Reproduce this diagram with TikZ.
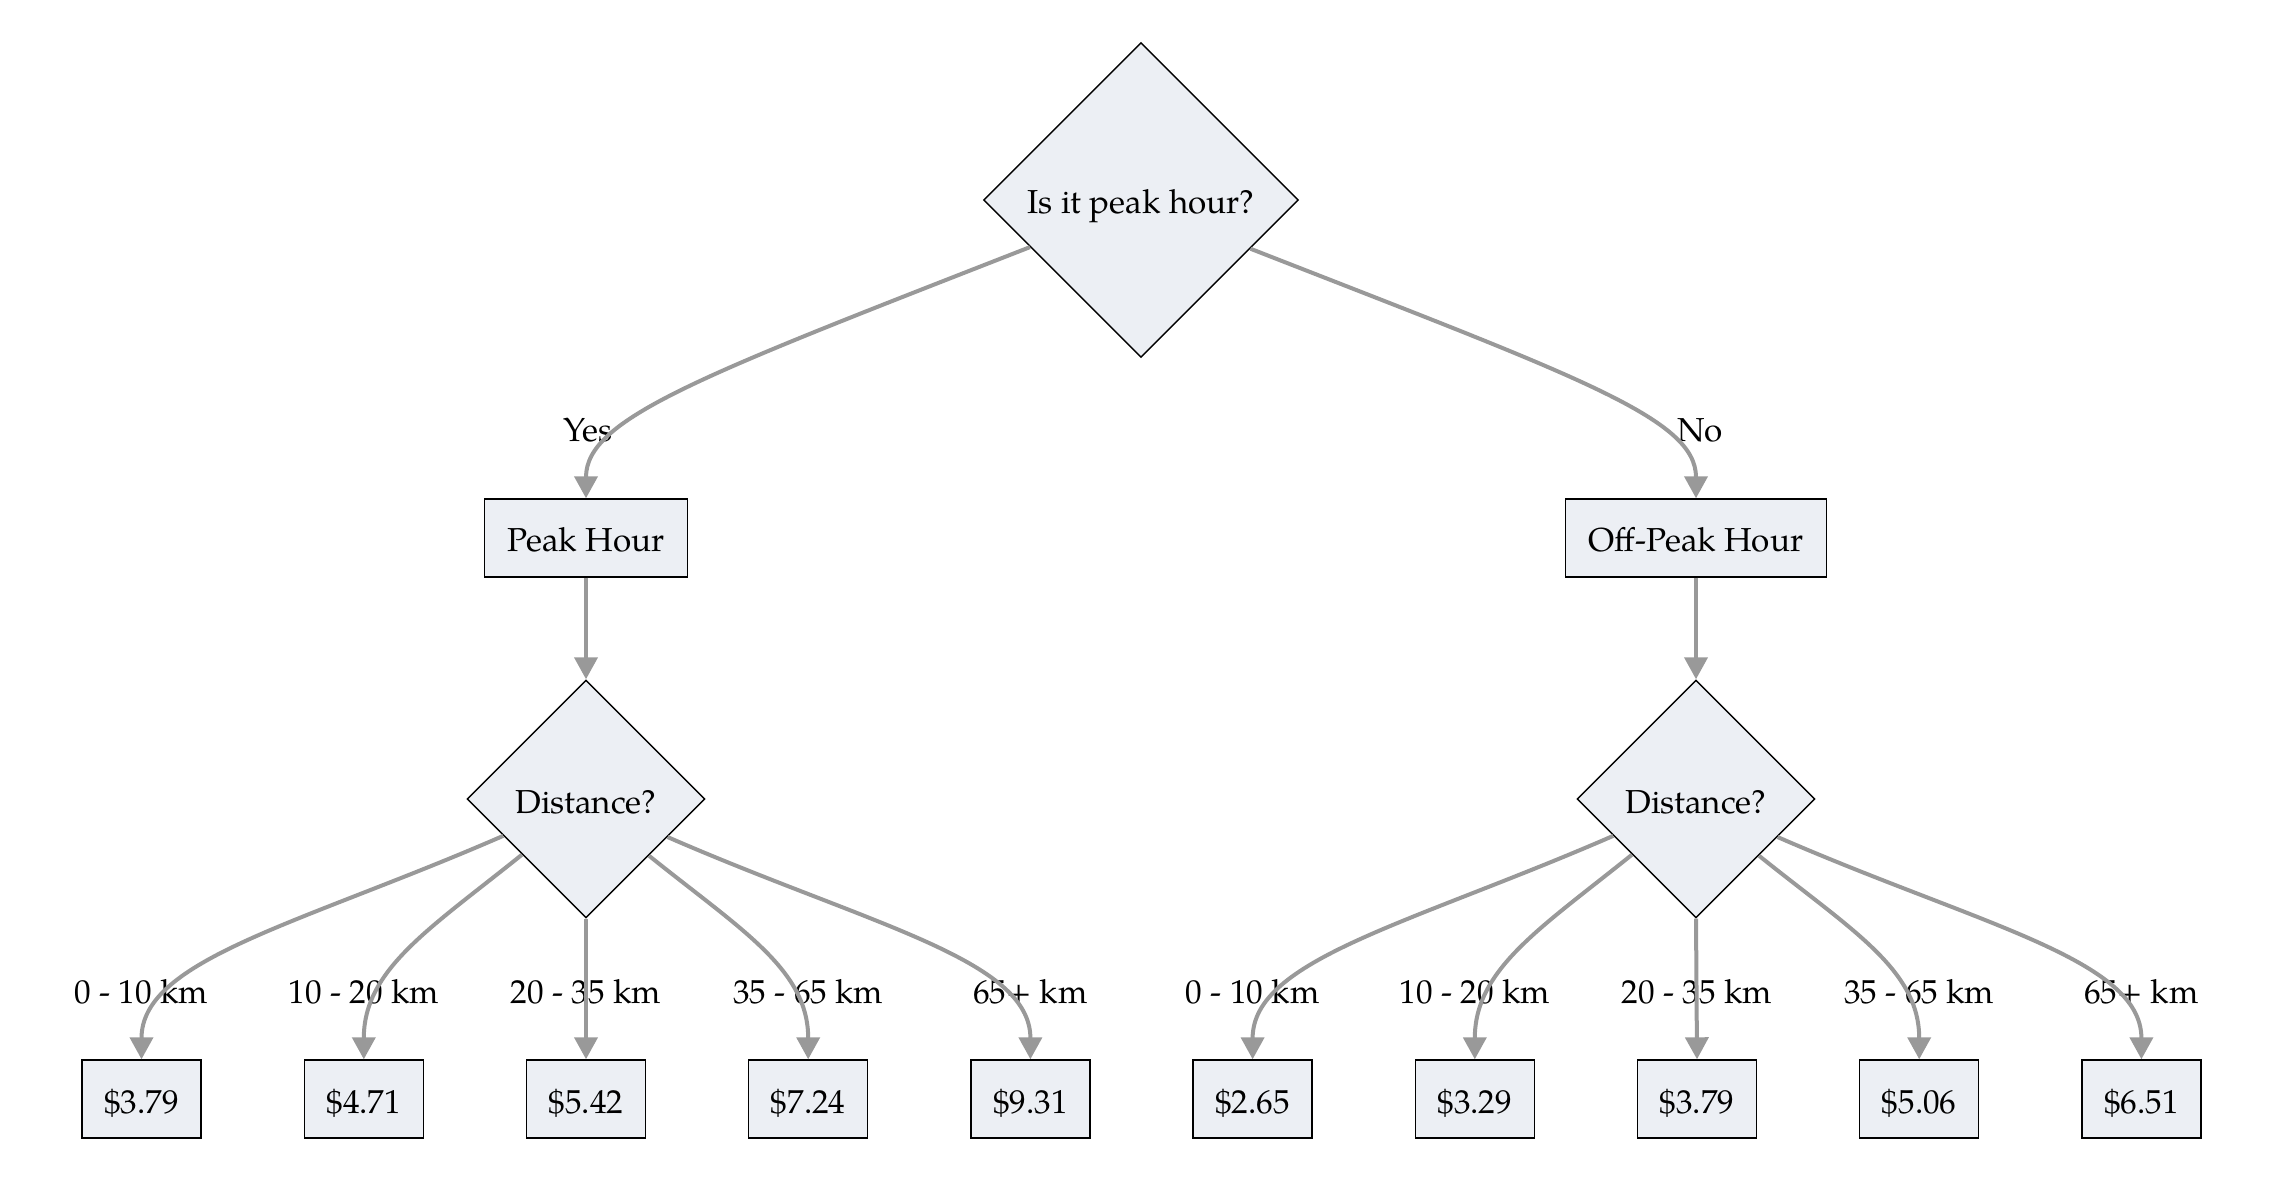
\documentclass[tikz,border=0pt]{standalone}
\usepackage{fontspec}
\setmainfont{TeX Gyre Pagella}
\usetikzlibrary{shapes.geometric,arrows.meta}
\definecolor{nodefill}{HTML}{ECEFF4}
\definecolor{edgegray}{HTML}{999999}
\begin{document}
\begin{tikzpicture}[x=0.5pt,y=-0.5pt,
  every node/.style={font=\fontsize{16.6}{20}\selectfont, text=black},
  box/.style={draw=black, line width=0.7pt, fill=nodefill, rectangle,
    minimum height=39pt, inner sep=0pt, text height=14pt, text depth=0pt},
  dec/.style={draw=black, line width=0.7pt, fill=nodefill, diamond, aspect=1,
    inner sep=0pt, text height=14pt, text depth=0pt},
  edge/.style={draw=edgegray, line width=2pt, -{Triangle[length=11pt,width=11.5pt]}},
  lbl/.style={inner sep=0pt, anchor=base}]
\useasboundingbox (0,0) rectangle (2274,1202);

% decision and category nodes
\node[dec, minimum width=157.5pt, minimum height=157.5pt] (root) at (1141,200) {Is it peak hour?};
\node[box, minimum width=101.5pt] (peak) at (586,538) {Peak Hour};
\node[box, minimum width=130.5pt] (off) at (1696,538) {Off-Peak Hour};
\node[dec, minimum width=119pt, minimum height=119pt] (dl) at (586,799) {Distance?};
\node[dec, minimum width=119pt, minimum height=119pt] (dr) at (1696,799) {Distance?};

% price leaves
\node[box, minimum width=59.5pt] (l1) at (141.5,1099) {\$3.79};
\node[box, minimum width=59.5pt] (l2) at (363.8,1099) {\$4.71};
\node[box, minimum width=59.5pt] (l3) at (586,1099) {\$5.42};
\node[box, minimum width=59.5pt] (l4) at (808.2,1099) {\$7.24};
\node[box, minimum width=59.5pt] (l5) at (1030.4,1099) {\$9.31};
\node[box, minimum width=59.5pt] (r1) at (1252.6,1099) {\$2.65};
\node[box, minimum width=59.5pt] (r2) at (1474.8,1099) {\$3.29};
\node[box, minimum width=59.5pt] (r3) at (1697,1099) {\$3.79};
\node[box, minimum width=59.5pt] (r4) at (1919.2,1099) {\$5.06};
\node[box, minimum width=59.5pt] (r5) at (2141.4,1099) {\$6.51};

% edge labels
\node[lbl] (yes) at (588,441.5) {Yes};
\node[lbl] (no) at (1700,441.5) {No};
\node[lbl] (tl1) at (141.5,1003.3) {0 - 10 km};
\node[lbl] (tl2) at (363.8,1003.3) {10 - 20 km};
\node[lbl] (tl3) at (586,1003.3) {20 - 35 km};
\node[lbl] (tl4) at (808.2,1003.3) {35 - 65 km};
\node[lbl] (tl5) at (1030.4,1003.3) {65+ km};
\node[lbl] (tr1) at (1252.6,1003.3) {0 - 10 km};
\node[lbl] (tr2) at (1474.8,1003.3) {10 - 20 km};
\node[lbl] (tr3) at (1697,1003.3) {20 - 35 km};
\node[lbl] (tr4) at (1919.2,1003.3) {35 - 65 km};
\node[lbl] (tr5) at (2141.4,1003.3) {65+ km};

% connectors
\draw[edge] (root.203.4) .. controls +(-330,129) and +(0,-80) .. (peak.north);
\draw[edge] (root.336.6) .. controls +(330,129) and +(0,-80) .. (off.north);
\draw[edge] (peak.south) -- (dl.north);
\draw[edge] (off.south) -- (dr.north);

\draw[edge] (dl.204.3) .. controls +(-202,88) and +(0,-100) .. (l1.north);
\draw[edge] (dl.221.7) .. controls +(-92,74) and +(0,-90) .. (l2.north);
\draw[edge] (dl.south) -- (l3.north);
\draw[edge] (dl.318.3) .. controls +(92,74) and +(0,-90) .. (l4.north);
\draw[edge] (dl.335.7) .. controls +(202,88) and +(0,-100) .. (l5.north);

\draw[edge] (dr.204.3) .. controls +(-202,88) and +(0,-100) .. (r1.north);
\draw[edge] (dr.221.7) .. controls +(-92,74) and +(0,-90) .. (r2.north);
\draw[edge] (dr.south) -- (r3.north);
\draw[edge] (dr.318.3) .. controls +(92,74) and +(0,-90) .. (r4.north);
\draw[edge] (dr.335.7) .. controls +(202,88) and +(0,-100) .. (r5.north);
\end{tikzpicture}
\end{document}
